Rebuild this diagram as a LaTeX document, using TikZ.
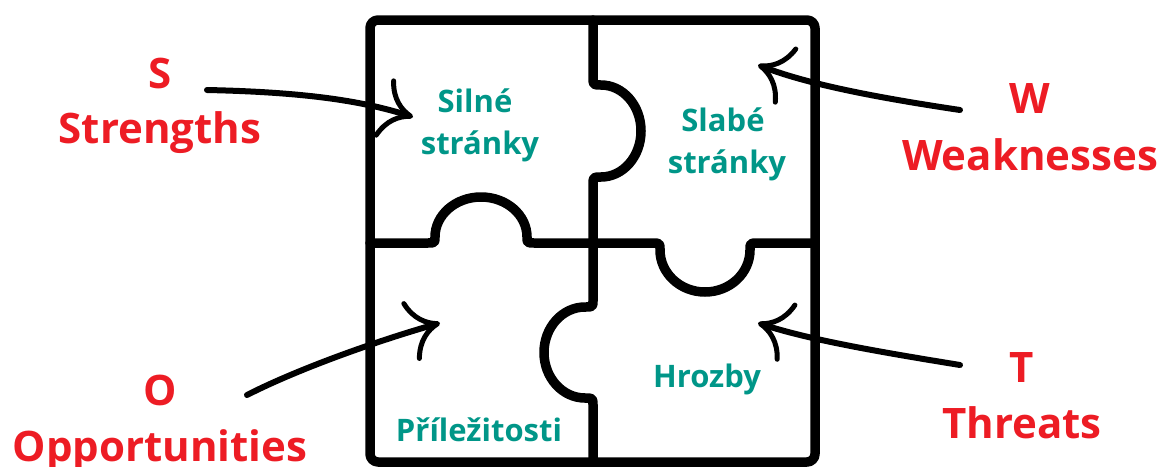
\documentclass[tikz,border=0pt]{standalone}
\usepackage{fontspec}
\setmainfont{Open Sans}
\usetikzlibrary{arrows.meta}
\definecolor{swotred}{RGB}{237,28,36}
\definecolor{swotteal}{RGB}{0,150,136}

\begin{document}
\begin{tikzpicture}[x=1pt,y=-1pt,line join=round,line cap=round,
  piece/.style={line width=9.5pt},
  big/.style={text=swotred,font=\fontsize{42}{50}\selectfont\bfseries,anchor=base},
  small/.style={text=swotteal,font=\fontsize{31}{37}\selectfont\bfseries,anchor=base},
  hand/.style={line width=6pt,-{Computer Modern Rightarrow[length=32pt,width=62pt,line width=5pt]}}]
  \useasboundingbox (0,0) rectangle (1166,466);
  % frame of the puzzle
  \draw[piece,rounded corners=8pt] (370,20) rectangle (815,462);
  % vertical cut with two knobs
  \draw[piece] (593,20) -- (593,77) .. controls (593,85) .. (601,85)
    arc[start angle=-90,end angle=90,x radius=40,y radius=46]
    .. controls (593,177) .. (593,185) -- (593,300) .. controls (593,307) .. (585,307)
    arc[start angle=-90,end angle=-270,x radius=41,y radius=45.5]
    .. controls (593,398) .. (593,406) -- (593,462);
  % horizontal cut with two knobs
  \draw[piece] (370,243) -- (427,243) .. controls (435,243) .. (435,237)
    arc[start angle=180,end angle=360,x radius=46,y radius=40]
    .. controls (527,243) .. (535,243) -- (652,243) .. controls (660,243) .. (660,250)
    arc[start angle=180,end angle=0,x radius=45,y radius=42]
    .. controls (750,243) .. (758,243) -- (815,243);
  % piece texts
  \node[small] (sil1) at (475,112) {Silné};
  \node[small] (sil2) at (480,154) {stránky};
  \node[small] (sla1) at (723,131) {Slabé};
  \node[small] (sla2) at (727,173) {stránky};
  \node[small] (hro) at (707,387) {Hrozby};
  \node[small] (pri) at (479,441) {Příležitosti};
  % SWOT letters
  \foreach \n/\x/\ya/\yb/\a/\b in {s/160/88/143/S/Strengths,o/160/405/461/O/Opportunities,
      w/1030/113/170/W/Weaknesses,t/1022/382/438/T/Threats}{
    \node[big] (\n1) at (\x,\ya) {\a};
    \node[big] (\n2) at (\x,\yb) {\b};
  }
  % hand drawn arrows
  \coordinate (sa) at (207,90);  \coordinate (sb) at (413,117);
  \coordinate (oa) at (247,395); \coordinate (ob) at (440,323);
  \coordinate (wa) at (960,110); \coordinate (wb) at (758,65);
  \coordinate (ta) at (960,365); \coordinate (tb) at (758,323);
  \draw[hand] (sa) .. controls (300,92) and (360,100) .. (sb);
  \draw[hand] (oa) .. controls (300,368) and (380,340) .. (ob);
  \draw[hand] (wa) .. controls (880,98) and (810,85) .. (wb);
  \draw[hand] (ta) .. controls (880,352) and (810,340) .. (tb);
\end{tikzpicture}
\end{document}
